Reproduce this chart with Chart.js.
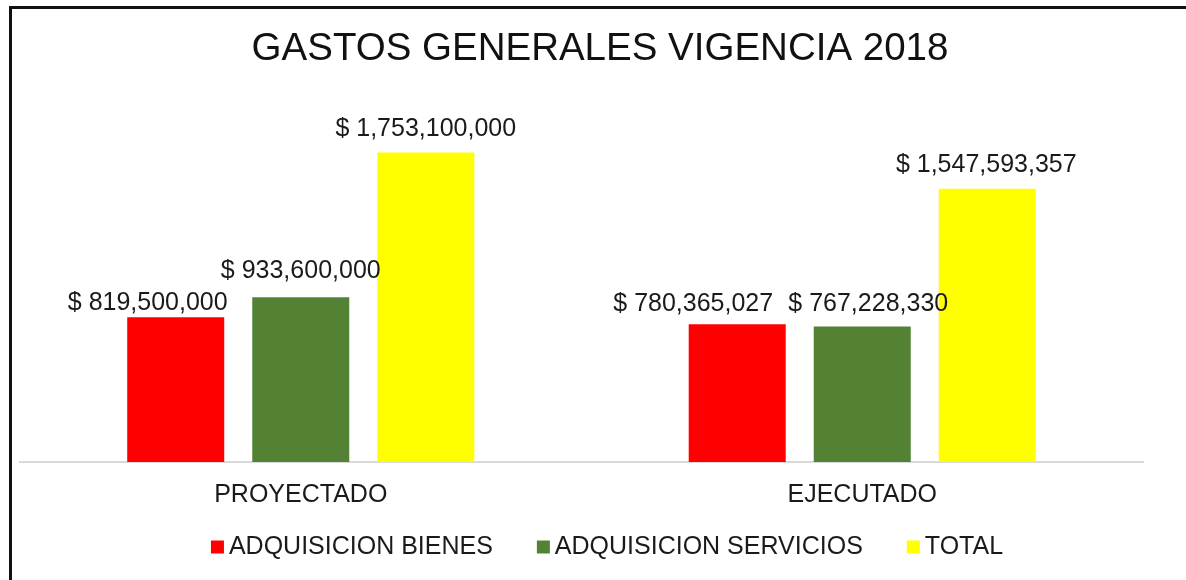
<!DOCTYPE html>
<html>
<head>
<meta charset="utf-8">
<script src="https://cdn.jsdelivr.net/npm/chart.js@4/dist/chart.umd.min.js"></script>
<style>
  html, body { margin: 0; padding: 0; background: #fff; }
  #wrap { position: relative; width: 1186px; height: 580px; overflow: hidden; }
  #frame {
    position: absolute; left: 9px; top: 6px; width: 1300px; height: 700px;
    border-top: 3px solid #111; border-left: 3px solid #111;
    pointer-events: none;
  }
</style>
</head>
<body>
<div id="wrap">
  <canvas id="chart"></canvas>
  <div id="frame"></div>
</div>
<script>
// data
const categories = ['PROYECTADO', 'EJECUTADO'];
const seriesNames = ['ADQUISICION BIENES', 'ADQUISICION SERVICIOS', 'TOTAL'];
const bienes = [819500000, 780365027];
const servicios = [933600000, 767228330];
const total = [1753100000, 1547593357];
const seriesColors = ['#FF0000', '#548235', '#FFFF00'];
const chartTitle = 'GASTOS GENERALES VIGENCIA 2018';

// where the value labels sit relative to the bar top (Excel moved some aside)
const labelDx = [[-28, -44], [0, 6], [0, -1]];
const labelDy = [[14, 20], [26, 22], [23, 24]];

const FONT = "'Liberation Sans', Arial, sans-serif";
const TEXT = '#1a1a1a';

function money(v) {
  return '$ ' + v.toLocaleString('en-US');
}

// draws the "$ ..." labels above each bar
const valueLabels = {
  id: 'valueLabels',
  afterDatasetsDraw(chart) {
    const ctx = chart.ctx;
    ctx.save();
    ctx.font = '25px ' + FONT;
    ctx.fillStyle = TEXT;
    ctx.textAlign = 'center';
    ctx.textBaseline = 'middle';
    chart.data.datasets.forEach((ds, i) => {
      chart.getDatasetMeta(i).data.forEach((bar, j) => {
        ctx.fillText(money(ds.data[j]), bar.x + labelDx[i][j], bar.y - labelDy[i][j]);
      });
    });
    ctx.restore();
  }
};

// title + legend placed like the Excel original (centred on the whole frame, tight box gap)
const excelFrame = {
  id: 'excelFrame',
  afterDraw(chart) {
    const ctx = chart.ctx;
    ctx.save();
    ctx.fillStyle = '#111';
    ctx.font = '38.5px ' + FONT;
    ctx.textAlign = 'center';
    ctx.textBaseline = 'middle';
    ctx.fillText(chartTitle, 600, 49);

    // legend
    ctx.font = '25px ' + FONT;
    ctx.textAlign = 'left';
    const box = 13, gap = 5, spacing = 44;
    const items = chart.data.datasets.map(ds => ({
      text: ds.label, color: ds.backgroundColor, w: ctx.measureText(ds.label).width
    }));
    const totalW = items.reduce((s, it) => s + box + gap + it.w, 0) + spacing * (items.length - 1);
    let x = 607 - totalW / 2;
    const y = 547;
    items.forEach(it => {
      ctx.fillStyle = it.color;
      ctx.fillRect(x, y - box / 2, box, box);
      ctx.fillStyle = TEXT;
      ctx.fillText(it.text, x + box + gap, y);
      x += box + gap + it.w + spacing;
    });
    ctx.restore();
  }
};

const ctx = document.getElementById('chart').getContext('2d');
new Chart(ctx, {
  type: 'bar',
  data: {
    labels: categories,
    datasets: [bienes, servicios, total].map((d, i) => ({
      label: seriesNames[i],
      data: d,
      backgroundColor: seriesColors[i],
      borderWidth: 0,
      categoryPercentage: 0.668,
      barPercentage: 0.776
    }))
  },
  options: {
    responsive: true,
    maintainAspectRatio: false,
    animation: false,
    layout: { padding: { left: 20, right: 43, top: 109, bottom: 52 } },
    plugins: {
      title: { display: false },
      legend: { display: false },
      tooltip: { enabled: false }
    },
    scales: {
      x: {
        grid: { display: false, drawTicks: false },
        border: { color: '#d9d9d9', width: 2 },
        ticks: { color: TEXT, font: { family: FONT, size: 25 }, padding: 18 }
      },
      y: {
        display: false,
        min: 0,
        max: 2000000000
      }
    }
  },
  plugins: [valueLabels, excelFrame]
});
</script>
</body>
</html>
